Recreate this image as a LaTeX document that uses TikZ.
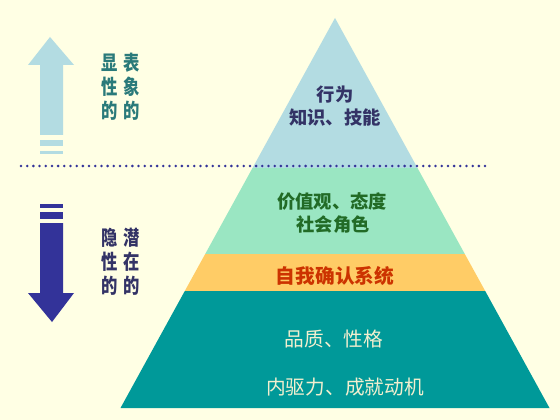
\documentclass[tikz,border=0pt]{standalone}
\usepackage{fontspec}
\setmainfont{Noto Sans CJK SC}
\usepackage{xcolor}
\usepackage{tikz}

\definecolor{bgyellow}{HTML}{FFFFE4}
\definecolor{topblue}{HTML}{B3DCE2}
\definecolor{midgreen}{HTML}{9AE6C2}
\definecolor{selforange}{HTML}{FFCC66}
\definecolor{baseteal}{HTML}{009999}
\definecolor{navy}{HTML}{333399}
\definecolor{darkink}{HTML}{333366}
\definecolor{greenink}{HTML}{226B26}
\definecolor{redink}{HTML}{CC3300}
\definecolor{creamink}{HTML}{F2EFCF}
\definecolor{tealink}{HTML}{2A7A7A}

\begin{document}
\begin{tikzpicture}[
    x=0.025cm, y=-0.025cm,
    layer/.style={draw=none},
    label/.style={inner sep=0pt, font=\fontsize{13}{17}\selectfont\bfseries},
    biglabel/.style={inner sep=0pt, font=\fontsize{14}{18}\selectfont\bfseries},
    sidetext/.style={inner sep=0pt, align=center, xscale=0.8, transform shape,
        font=\fontsize{14.5}{17}\selectfont\bfseries},
    dotline/.style={navy, line width=2pt, line cap=round, dash pattern=on 0pt off 4.4pt}
]

% Background
    \fill[bgyellow] (0,0) rectangle (560,420);
    \useasboundingbox (0,0) rectangle (560,420);

% Pyramid corners
    \coordinate (apex) at (335,18);
    \coordinate (l1) at (252.5,168); \coordinate (r1) at (417.5,168);
    \coordinate (l2) at (205.2,254); \coordinate (r2) at (464.8,254);
    \coordinate (l3) at (184.8,291); \coordinate (r3) at (485.2,291);
    \coordinate (l4) at (120.5,408); \coordinate (r4) at (549.5,408);

% --- Layers, top to bottom
    \fill[layer, topblue] (apex) -- (r1) -- (l1) -- cycle;
    \fill[layer, midgreen] (l1) -- (r1) -- (r2) -- (l2) -- cycle;
    \fill[layer, selforange] (l2) -- (r2) -- (r3) -- (l3) -- cycle;
    \fill[layer, baseteal] (l3) -- (r3) -- (r4) -- (l4) -- cycle;

% --- Layer texts
    \node[label, darkink] (act) at (335,95) {行为};
    \node[label, darkink] (know) at (335,118) {知识、技能};
    \node[label, greenink] (value) at (332,202) {价值观、态度};
    \node[label, greenink] (role) at (333,225) {社会角色};
    \node[biglabel, redink] (self) at (335,276) {自我确认系统};
    \node[biglabel, creamink, font=\fontsize{14}{18}\selectfont] (trait) at (334,339) {品质、性格};
    \node[biglabel, creamink, font=\fontsize{14}{18}\selectfont] (motive) at (345,387) {内驱力、成就动机};

% Dotted divider
    \coordinate (dl) at (21,166);
    \coordinate (dr) at (488,166);
    \draw[dotline] (dl) -- (dr);

% --- Up arrow (visible side)
    \fill[topblue] (50,37) -- (74,65) -- (63,65) -- (63,135) -- (40,135) -- (40,65) -- (28,65) -- cycle;
    \fill[topblue] (40,140) rectangle (63,146);
    \fill[topblue] (40,151) rectangle (63,154);

% --- Down arrow (hidden side)
    \fill[navy] (40,204) rectangle (63,208);
    \fill[navy] (40,212) rectangle (63,219);
    \fill[navy] (40,223) -- (63,223) -- (63,293) -- (74,293) -- (52,322) -- (28,293) -- (40,293) -- cycle;

% Side labels
    \node[sidetext, tealink] (shown) at (110,87) {显\\性\\的};
    \node[sidetext, tealink] (surface) at (132,87) {表\\象\\的};
    \node[sidetext, darkink] (hidden) at (110,262) {隐\\性\\的};
    \node[sidetext, darkink] (latent) at (132,262) {潜\\在\\的};

\end{tikzpicture}
\end{document}
